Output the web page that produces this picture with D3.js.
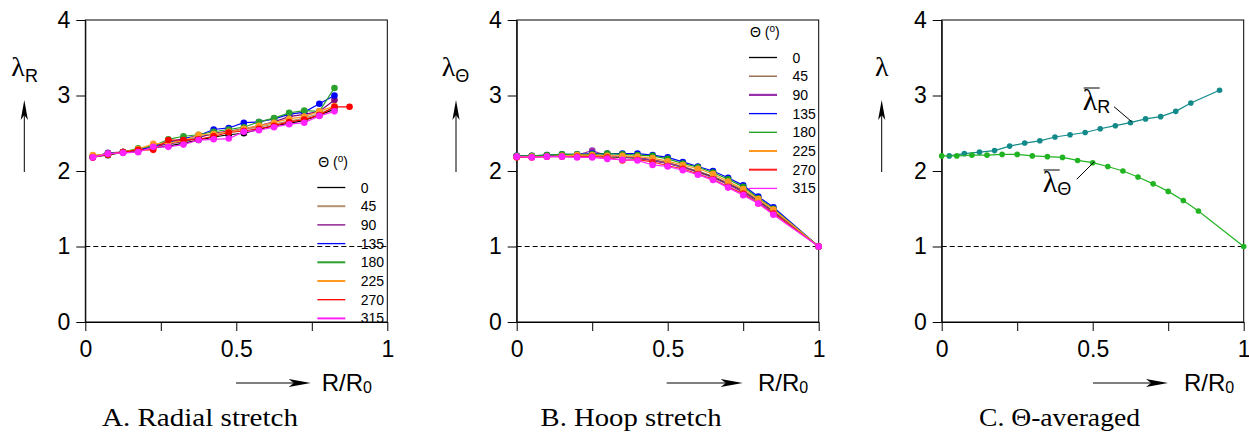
<!DOCTYPE html>
<html lang="en">
<head>
<meta charset="UTF-8">
<title>Stretch vs radius</title>
<script src="https://d3js.org/d3.v7.min.js"></script>
<style>
    body { margin: 0; background: #fff; }
    svg { display: block; }
    .axis text { font-family: "Liberation Sans", Arial, sans-serif; font-size: 23px; fill: #000; }
    .axis path, .axis line { stroke: #000; stroke-width: 1px; }
    .lbl { font-family: "Liberation Sans", Arial, sans-serif; fill: #000; }
    .greek { font-family: "Liberation Serif", "DejaVu Serif", serif; fill: #000; }
    .caption { font-family: "Liberation Serif", "DejaVu Serif", serif; font-size: 25px; fill: #000; }
    .leg text { font-family: "Liberation Sans", Arial, sans-serif; font-size: 14px; fill: #000; }
</style>
</head>
<body>
<svg width="1249" height="433"></svg>
<script>
// ---- data ----
const angles = ["0", "45", "90", "135", "180", "225", "270", "315"];

// panel A: radial stretch
const xA = [0.025, 0.075, 0.125, 0.175, 0.225, 0.275, 0.325, 0.375, 0.425, 0.475, 0.525, 0.575, 0.625, 0.675, 0.725, 0.775, 0.825];
const xA270 = [0.025, 0.075, 0.125, 0.175, 0.225, 0.275, 0.325, 0.375, 0.425, 0.475, 0.525, 0.575, 0.625, 0.675, 0.725, 0.775, 0.825, 0.875];
const radA0   = [2.19, 2.21, 2.25, 2.28, 2.31, 2.33, 2.37, 2.41, 2.45, 2.48, 2.50, 2.55, 2.60, 2.63, 2.67, 2.74, 2.82];
const radA45  = [2.20, 2.23, 2.25, 2.29, 2.34, 2.38, 2.40, 2.46, 2.48, 2.52, 2.55, 2.58, 2.62, 2.66, 2.70, 2.76, 2.84];
const radA90  = [2.18, 2.24, 2.25, 2.27, 2.32, 2.36, 2.39, 2.44, 2.50, 2.53, 2.56, 2.60, 2.65, 2.72, 2.75, 2.79, 2.94];
const radA135 = [2.19, 2.23, 2.25, 2.28, 2.33, 2.38, 2.43, 2.47, 2.55, 2.57, 2.64, 2.65, 2.69, 2.75, 2.78, 2.89, 3.00];
const radA180 = [2.19, 2.23, 2.25, 2.30, 2.33, 2.42, 2.46, 2.48, 2.52, 2.55, 2.58, 2.65, 2.70, 2.77, 2.80, 2.79, 3.10];
const radA225 = [2.21, 2.22, 2.25, 2.29, 2.36, 2.37, 2.40, 2.48, 2.49, 2.52, 2.56, 2.60, 2.64, 2.69, 2.72, 2.79, 2.86];
const radA270 = [2.18, 2.22, 2.25, 2.28, 2.28, 2.41, 2.41, 2.42, 2.46, 2.51, 2.53, 2.56, 2.60, 2.65, 2.68, 2.74, 2.85, 2.85];
const radA315 = [2.18, 2.23, 2.24, 2.25, 2.32, 2.32, 2.35, 2.41, 2.42, 2.43, 2.52, 2.54, 2.58, 2.62, 2.64, 2.73, 2.79];

// panel B: hoop stretch
const xB = [0, 0.05, 0.1, 0.15, 0.2, 0.25, 0.3, 0.35, 0.4, 0.45, 0.5, 0.55, 0.6, 0.65, 0.7, 0.75, 0.8, 0.85, 1.0];
const hoopB0   = [2.19, 2.19, 2.20, 2.20, 2.20, 2.21, 2.19, 2.18, 2.17, 2.14, 2.10, 2.05, 1.99, 1.92, 1.83, 1.73, 1.60, 1.46, 1.00];
const hoopB45  = [2.19, 2.19, 2.20, 2.20, 2.20, 2.21, 2.19, 2.19, 2.17, 2.15, 2.11, 2.06, 2.00, 1.93, 1.84, 1.74, 1.61, 1.47, 1.00];
const hoopB90  = [2.20, 2.19, 2.20, 2.21, 2.21, 2.27, 2.20, 2.19, 2.18, 2.14, 2.10, 2.05, 1.98, 1.91, 1.82, 1.72, 1.59, 1.45, 1.00];
const hoopB135 = [2.20, 2.20, 2.21, 2.22, 2.22, 2.23, 2.23, 2.23, 2.23, 2.21, 2.18, 2.12, 2.06, 2.00, 1.91, 1.81, 1.66, 1.52, 1.00];
const hoopB180 = [2.20, 2.20, 2.21, 2.22, 2.22, 2.22, 2.23, 2.22, 2.21, 2.20, 2.16, 2.10, 2.05, 1.98, 1.89, 1.79, 1.64, 1.50, 1.00];
const hoopB225 = [2.19, 2.19, 2.19, 2.20, 2.21, 2.21, 2.20, 2.20, 2.19, 2.17, 2.13, 2.08, 2.03, 1.96, 1.86, 1.76, 1.63, 1.49, 1.00];
const hoopB270 = [2.18, 2.18, 2.19, 2.19, 2.19, 2.19, 2.18, 2.14, 2.15, 2.12, 2.07, 2.03, 1.96, 1.89, 1.79, 1.70, 1.57, 1.44, 1.00];
const hoopB315 = [2.19, 2.18, 2.19, 2.19, 2.18, 2.18, 2.16, 2.15, 2.14, 2.08, 2.06, 2.01, 1.95, 1.88, 1.78, 1.68, 1.57, 1.42, 1.00];

// panel C: theta-averaged
const xCR = [0.025, 0.075, 0.125, 0.175, 0.225, 0.275, 0.325, 0.375, 0.425, 0.475, 0.525, 0.575, 0.625, 0.675, 0.725, 0.775, 0.825, 0.92];
const meanR = [2.20, 2.23, 2.25, 2.27, 2.33, 2.37, 2.40, 2.45, 2.48, 2.51, 2.56, 2.60, 2.64, 2.69, 2.72, 2.79, 2.90, 3.07];
const meanT = [2.20, 2.20, 2.21, 2.21, 2.22, 2.22, 2.20, 2.19, 2.18, 2.14, 2.11, 2.06, 2.00, 1.92, 1.83, 1.73, 1.61, 1.47, 1.00];

const xTicks = [0, 0.25, 0.5, 0.75, 1];
const yTicks = [0, 1, 2, 3, 4];

const colorsA = ["#000000", "#b39272", "#800080", "#0000ff", "#2ca02c", "#ff9922", "#ff0000", "#ff22ff"];
const colorsB = ["#000000", "#8b5a3c", "#9932aa", "#0000ff", "#1a9e1a", "#ff9922", "#ff2020", "#ff22ff"];

const svg = d3.select("svg");
const boxTop = 20, boxBottom = 322, boxW = 302;

function zip(xs, ys) { return xs.map((x, i) => [x, ys[i]]); }

function drawPanel(p) {
    const g = svg.append("g").attr("transform", `translate(${p.left},0)`);
    const x = d3.scaleLinear().domain([0, 1]).range([0, boxW]);
    const y = d3.scaleLinear().domain([0, 4]).range([boxBottom, boxTop]);

    // frame
    g.append("rect").attr("x", 0).attr("y", boxTop).attr("width", boxW).attr("height", boxBottom - boxTop)
        .attr("fill", "none").attr("stroke", "#000").attr("stroke-width", 1);

    g.append("g").attr("class", "axis").attr("transform", `translate(0,${boxBottom})`)
        .call(d3.axisBottom(x).tickValues(xTicks).tickSize(9).tickSizeOuter(0).tickPadding(10)
            .tickFormat(d => (d === 0.25 || d === 0.75) ? "" : String(d)));
    g.append("g").attr("class", "axis")
        .call(d3.axisLeft(y).tickValues(yTicks).tickSize(9).tickSizeOuter(0).tickPadding(6)
            .tickFormat(d3.format("d")));

    // reference line at lambda = 1
    g.append("line").attr("x1", 0).attr("x2", boxW).attr("y1", y(1)).attr("y2", y(1))
        .attr("stroke", "#000").attr("stroke-width", 1).attr("stroke-dasharray", "5,3");

    const line = d3.line().x(d => x(d[0])).y(d => y(d[1]));
    p.series.forEach(s => {
        const pts = zip(s.x, s.y);
        g.append("path").datum(pts).attr("d", line).attr("fill", "none")
            .attr("stroke", s.color).attr("stroke-width", 1.2);
        g.selectAll(null).data(pts).join("circle")
            .attr("cx", d => x(d[0])).attr("cy", d => y(d[1])).attr("r", s.r || 3.3)
            .attr("fill", s.color);
    });

    // y label with arrow
    const yl = g.append("text").attr("x", p.ylabX).attr("y", 76);
    yl.append("tspan").attr("class", "greek").attr("font-size", 28).text("λ");
    if (p.ySub) yl.append("tspan").attr("class", "lbl").attr("font-size", 18).attr("dy", 6).text(p.ySub);
    g.append("line").attr("x1", p.arrX).attr("x2", p.arrX).attr("y1", 172).attr("y2", 112)
        .attr("stroke", "#000").attr("stroke-width", 1);
    g.append("path").attr("fill", "#000")
        .attr("d", `M${p.arrX},100 L${p.arrX - 3.6},120 L${p.arrX},115 L${p.arrX + 3.6},120 Z`);

    // x label with arrow
    g.append("line").attr("x1", p.xa0).attr("x2", p.xa1 - 10).attr("y1", 383).attr("y2", 383)
        .attr("stroke", "#000").attr("stroke-width", 1);
    g.append("path").attr("fill", "#000")
        .attr("d", `M${p.xa1},383 L${p.xa1 - 22},379 L${p.xa1 - 17},383 L${p.xa1 - 22},387 Z`);
    const xl = g.append("text").attr("class", "lbl").attr("x", p.xlabX).attr("y", 391).attr("font-size", 24);
    xl.append("tspan").text("R/R");
    xl.append("tspan").attr("font-size", 16).attr("dy", 2).text("0");

    svg.append("text").attr("class", "caption").attr("x", p.capX).attr("y", 426)
        .attr("text-anchor", "middle").attr("textLength", p.capW).attr("lengthAdjust", "spacingAndGlyphs")
        .text(p.caption);
    return { g, x, y };
}

function legend(g, lx, ly, colors, widths) {
    const lg = g.append("g").attr("class", "leg");
    const t = lg.append("text").attr("x", lx + 1).attr("y", ly);
    t.append("tspan").text("Θ (");
    t.append("tspan").attr("font-size", 10).attr("dy", -5).text("o");
    t.append("tspan").attr("dy", 5).text(")");
    angles.forEach((a, i) => {
        const yy = ly + 20.5 + i * 18.7;
        lg.append("line").attr("x1", lx).attr("x2", lx + 28).attr("y1", yy).attr("y2", yy)
            .attr("stroke", colors[i]).attr("stroke-width", widths[i]);
        lg.append("text").attr("x", lx + 43.5).attr("y", yy + 5).text(a);
    });
}

const seriesA = [radA0, radA45, radA90, radA135, radA180, radA225, radA270, radA315]
    .map((v, i) => ({ x: i === 6 ? xA270 : xA, y: v, color: colorsA[i] }));
const pA = drawPanel({ left: 85.3, series: seriesA, ySub: "R", ylabX: -74, arrX: -61,
    xa0: 150.7, xa1: 225.4, xlabX: 236.4, capX: 200, capW: 196, caption: "A. Radial stretch" });
legend(pA.g, 232, 167, colorsA, [1.3, 2, 1.3, 1.3, 2, 2, 1.3, 2]);

const seriesB = [hoopB0, hoopB45, hoopB90, hoopB135, hoopB180, hoopB225, hoopB270, hoopB315]
    .map((v, i) => ({ x: xB, y: v, color: colorsB[i] }));
const pB = drawPanel({ left: 516.7, series: seriesB, ySub: "Θ", ylabX: -75, arrX: -60.7,
    xa0: 150, xa1: 226, xlabX: 241.3, capX: 631, capW: 181, caption: "B. Hoop stretch" });
legend(pB.g, 232.3, 37, colorsB, [1.3, 1.3, 2.2, 1.3, 1.3, 2, 2, 1.3]);

const pC = drawPanel({ left: 941.7, series: [
        { x: xCR, y: meanR, color: "#128a8a", r: 2.8 },
        { x: xB, y: meanT, color: "#22b322", r: 2.8 }
    ], ySub: null, ylabX: -66.7, arrX: -60,
    xa0: 151.3, xa1: 226.3, xlabX: 242.3, capX: 1059.5, capW: 161, caption: "C. Θ-averaged" });

// annotations in panel C
function barLabel(g, lx, ly, sub, lead) {
    g.append("line").attr("x1", lx + 1).attr("x2", lx + 17).attr("y1", ly - 22).attr("y2", ly - 22)
        .attr("stroke", "#000").attr("stroke-width", 1);
    const t = g.append("text").attr("x", lx).attr("y", ly);
    t.append("tspan").attr("class", "greek").attr("font-size", 30).text("λ");
    t.append("tspan").attr("class", "lbl").attr("font-size", 18).attr("dy", 3).text(sub);
    g.append("line").attr("x1", lead[0]).attr("y1", lead[1]).attr("x2", lead[2]).attr("y2", lead[3])
        .attr("stroke", "#000").attr("stroke-width", 1);
}
barLabel(svg, 1082.7, 110, "R", [1114, 106.7, 1131.7, 121.7]);
barLabel(svg, 1042.7, 192, "Θ", [1076.7, 179.3, 1094.3, 161.7]);
</script>
</body>
</html>
